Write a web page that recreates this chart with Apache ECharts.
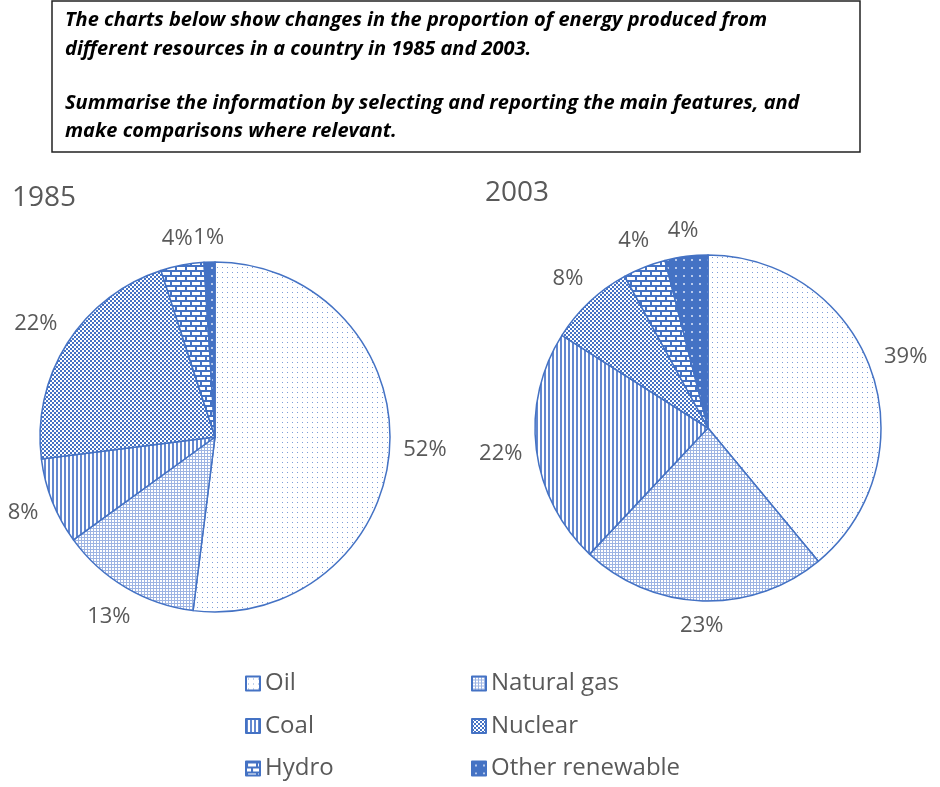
<!DOCTYPE html>
<html>
<head>
<meta charset="utf-8">
<script src="https://cdn.jsdelivr.net/npm/echarts@6/dist/echarts.min.js"></script>
<style>html,body{margin:0;padding:0;background:#fff;}#chart{width:940px;height:787px;}</style>
</head>
<body>
<div id="chart"></div>
<script>
const categories = ['Oil', 'Natural gas', 'Coal', 'Nuclear', 'Hydro', 'Other renewable'];
const years = ['1985', '2003'];
const values1985 = [52, 13, 8, 22, 4, 1];
const values2003 = [39, 23, 22, 8, 4, 4];
const headerLines = [
  'The charts below show changes in the proportion of energy produced from',
  'different resources in a country in 1985 and 2003.',
  '',
  'Summarise the information by selecting and reporting the main features, and',
  'make comparisons where relevant.'
];
const legendCol1 = ['Oil', 'Coal', 'Hydro'];
const legendCol2 = ['Natural gas', 'Nuclear', 'Other renewable'];

const BLUE = '#4472C4';
const GRAY = '#595959';
function tile(w, h, draw) {
  const c = document.createElement('canvas');
  c.width = w; c.height = h;
  const g = c.getContext('2d');
  draw(g, w, h);
  return { image: c, repeat: 'repeat' };
}
const patterns = [
  tile(5, 5, (g) => { g.fillStyle = '#fff'; g.fillRect(0,0,5,5); g.fillStyle = '#7d9dd8'; g.fillRect(2,2,1,1); }),
  tile(3, 3, (g) => { g.fillStyle = '#fff'; g.fillRect(0,0,3,3); g.fillStyle = '#9db4e3'; g.fillRect(0,0,3,1); g.fillRect(0,0,1,3); }),
  tile(4, 4, (g) => { g.fillStyle = '#fff'; g.fillRect(0,0,4,4); g.fillStyle = '#6388d0'; g.fillRect(0,0,2,4); }),
  tile(4, 4, (g) => { g.fillStyle = BLUE; g.fillRect(0,0,4,4); g.fillStyle = '#fff'; g.fillRect(0,0,2,2); g.fillRect(2,2,2,2); }),
  tile(10, 10, (g) => { g.fillStyle = '#fff'; g.fillRect(0,0,10,10); g.fillStyle = BLUE; g.fillRect(0,0,10,2); g.fillRect(0,5,10,2); g.fillRect(0,0,2,5); g.fillRect(5,5,2,5); }),
  tile(8, 8, (g) => { g.fillStyle = BLUE; g.fillRect(0,0,8,8); g.fillStyle = '#b7c9ec'; g.fillRect(3,3,2,2); })
];

const pieGeom = [
  { center: [215, 437], radius: 175 },
  { center: [708, 428], radius: 173 }
];
const labelGap = 13;

function makeData(vals) {
  return categories.map((name, i) => ({
    name, value: vals[i],
    itemStyle: { color: patterns[i] }
  }));
}

function labelLayout(params) {
  const g = pieGeom[params.seriesIndex];
  const r = params.labelRect;
  const lx = r.x + r.width / 2, ly = r.y + r.height / 2;
  let dx = lx - g.center[0], dy = ly - g.center[1];
  const d = Math.hypot(dx, dy) || 1;
  const ux = dx / d, uy = dy / d;
  const ext = Math.abs(ux) * r.width / 2 + Math.abs(uy) * r.height / 2;
  const t = g.radius + labelGap + ext;
  return { dx: g.center[0] + ux * t - lx, dy: g.center[1] + uy * t - ly };
}

const allValues = [values1985, values2003];
const series = allValues.map((vals, k) => ({
  type: 'pie',
  name: years[k],
  center: pieGeom[k].center,
  radius: pieGeom[k].radius,
  startAngle: 90,
  clockwise: true,
  avoidLabelOverlap: false,
  itemStyle: { borderColor: BLUE, borderWidth: 1.5 },
  emphasis: { disabled: true },
  label: {
    show: true, position: 'inside',
    formatter: '{c}%',
    color: GRAY, fontSize: 22, fontFamily: 'Open Sans'
  },
  labelLine: { show: false },
  labelLayout: labelLayout,
  data: makeData(vals)
}));

const legendCommon = {
  orient: 'vertical', top: 671, height: 130, padding: 0,
  itemWidth: 14, itemHeight: 14, itemGap: 17.5,
  icon: 'rect',
  textStyle: { fontSize: 24, color: GRAY, fontFamily: 'Open Sans', lineHeight: 25 },
  selectedMode: false
};

const graphic = [
  { type: 'rect', shape: { x: 52, y: 1, width: 808, height: 151 }, style: { fill: '#fff', stroke: '#222', lineWidth: 1.5 }, z: 0 }
];
const lineYs = [20, 49, 76, 103, 131];
headerLines.forEach((txt, i) => {
  if (!txt) return;
  graphic.push({ type: 'text', x: 65, y: lineYs[i], z: 1,
    style: { text: txt, fill: '#000', font: 'italic bold 20px "Open Sans"', verticalAlign: 'middle' } });
});
const yearPos = [[12, 198], [485, 193]];
years.forEach((y, i) => {
  graphic.push({ type: 'text', x: yearPos[i][0], y: yearPos[i][1],
    style: { text: y, fill: GRAY, font: '28px "Open Sans"', verticalAlign: 'middle' } });
});

const chart = echarts.init(document.getElementById('chart'));
chart.setOption({
  animation: false,
  backgroundColor: '#fff',
  graphic: graphic,
  legend: [
    Object.assign({ left: 245, data: legendCol1 }, legendCommon),
    Object.assign({ left: 471, data: legendCol2 }, legendCommon)
  ],
  series: series
});
</script>
</body>
</html>
